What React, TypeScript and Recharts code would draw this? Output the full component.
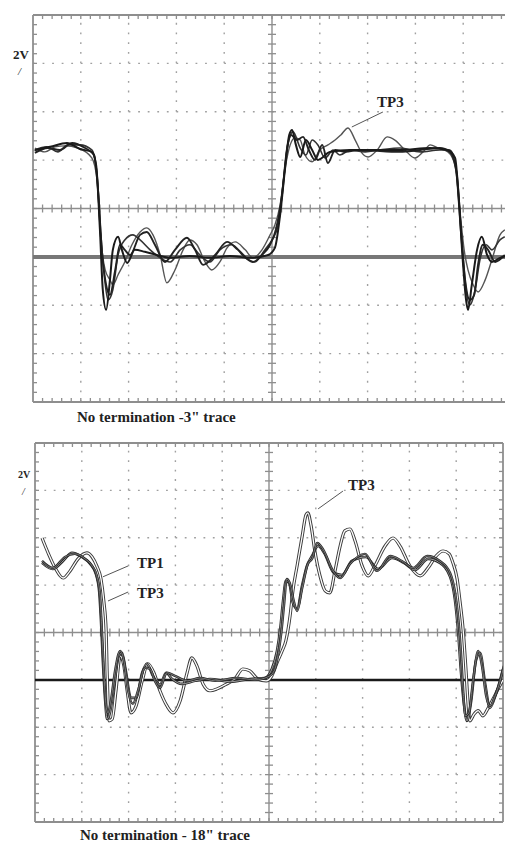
import React from 'react';
import { LineChart, Line, XAxis, YAxis, ReferenceLine } from 'recharts';

// time in ns (10 ns/div), voltage in V (2 V/div)
const xDivs = [0, 10, 20, 30, 40, 50, 60, 70, 80, 90, 100];
const yDivs = [-6, -4, -2, 0, 2, 4, 6, 8, 10];

// ---- Top scope: No termination - 3" trace ----
const top1 = [[0.4,4.42],[3.6,4.55],[7.1,4.71],[9.8,4.46],[12.3,4.34],[13.2,3.8],[14.0,1.12],[14.6,-1.36],[15.3,-2.19],[16.1,-0.95],[16.7,0.29],[17.8,0.83],[18.6,0.29],[19.7,-0.25],[21.3,0.29],[23.4,0.21],[25.9,0.08],[28.7,-0.04],[32.8,0.04],[37.0,-0.04],[41.2,0.04],[45.4,-0.04],[49.2,0.08],[50.6,0.37],[51.7,1.74],[52.7,3.6],[53.6,5.04],[54.2,5.25],[55.0,4.63],[55.9,4.13],[57.1,4.83],[58.4,4.42],[59.6,4.01],[62.1,4.34],[66.3,4.42],[76.8,4.42],[83.1,4.5],[86.8,4.42],[88.3,4.09],[89.1,2.36],[89.9,-0.12],[90.6,-1.78],[91.0,-2.19],[91.8,-1.16],[92.9,0.29],[93.9,0.83],[95.0,0.08],[96.0,-0.21],[97.7,-0.04],[99.8,0.04]];
const top2 = [[0.4,4.3],[3.1,4.5],[5.6,4.42],[8.2,4.71],[10.9,4.5],[12.8,4.21],[13.6,2.77],[14.4,0.29],[15.3,-1.16],[16.1,-1.57],[17.2,-0.54],[18.2,0.5],[19.2,0.29],[20.3,0.08],[22.4,0.91],[23.8,1.03],[25.5,0.5],[27.6,-0.21],[29.7,0.29],[32.2,0.79],[33.9,0.29],[35.6,-0.33],[38.1,0.08],[40.6,0.62],[42.9,0.29],[46.0,-0.21],[47.9,0.08],[49.6,0.5],[50.8,1.12],[52.1,2.56],[53.1,4.42],[54.0,5.04],[55.2,4.83],[56.5,4.96],[57.7,4.42],[59.0,4.01],[60.5,4.63],[61.7,3.88],[63.2,4.42],[65.3,4.34],[68.4,4.42],[76.8,4.34],[81.0,4.42],[85.1,4.5],[87.2,4.34],[88.5,3.6],[89.5,1.12],[90.4,-0.95],[91.4,-1.78],[92.3,-1.57],[93.1,-0.33],[94.1,0.5],[95.2,0.29],[96.7,-0.21],[98.7,0.08]];
const top3 = [[0.4,4.5],[2.5,4.34],[4.6,4.55],[6.7,4.59],[9.4,4.5],[12.3,4.09],[13.4,3.18],[14.2,0.7],[15.1,-0.54],[16.1,-0.95],[16.7,-1.16],[17.8,-0.74],[19.2,-0.21],[20.7,0.5],[22.4,1.03],[23.8,1.2],[25.1,0.91],[26.6,0.08],[28.0,-1.07],[29.7,-0.54],[31.4,0.29],[32.8,0.7],[34.3,0.5],[36.0,-0.21],[37.4,-0.54],[39.1,-0.21],[40.6,0.37],[42.3,0.62],[44.4,0.29],[46.0,-0.04],[47.9,0.29],[49.6,0.91],[50.6,1.32],[51.7,2.15],[52.7,3.6],[53.8,4.63],[54.8,4.92],[55.9,4.83],[56.9,4.21],[58.4,3.93],[60.0,4.42],[61.7,4.63],[63.2,4.83],[64.4,5.04],[65.9,5.33],[67.4,4.83],[68.8,4.3],[70.1,4.13],[72.0,4.42],[74.1,4.96],[75.7,4.83],[77.8,4.42],[79.9,4.09],[81.6,4.34],[83.1,4.63],[84.7,4.5],[86.8,4.34],[88.3,3.8],[89.3,1.94],[90.2,0.29],[91.0,-0.54],[92.1,-1.16],[93.1,-1.45],[94.6,-0.95],[96.0,-0.12],[97.7,0.91],[98.7,1.12]];
const top4 = [[0.4,4.42],[2.9,4.55],[5.2,4.34],[7.3,4.63],[9.8,4.63],[12.3,4.42],[13.4,3.39],[14.2,0.91],[14.9,-0.74],[15.7,-1.78],[16.7,-1.36],[17.8,0.08],[19.2,0.7],[20.9,0.91],[22.4,0.7],[24.5,0.29],[26.6,-0.04],[28.7,-0.21],[30.8,0.29],[32.8,0.5],[34.9,0.08],[37.0,-0.21],[39.1,0.29],[41.6,0.5],[44.4,-0.04],[46.4,-0.21],[48.5,0.29],[50.0,0.7],[51.3,1.32],[52.3,2.98],[53.3,4.63],[54.4,5.17],[55.9,4.5],[57.1,4.21],[58.4,4.83],[59.6,4.63],[61.1,4.09],[62.8,4.42],[64.2,4.21],[66.3,4.42],[69.5,4.34],[72.6,4.42],[76.8,4.5],[81.0,4.34],[85.1,4.42],[87.2,4.42],[88.7,3.39],[89.7,0.7],[90.6,-1.36],[91.4,-1.98],[92.5,-1.36],[93.5,-0.12],[94.8,0.5],[96.0,0.29],[97.7,0.7],[98.7,0.83]];

// ---- Bottom scope: No termination - 18" trace ----
const botTP3 = [[1.5,5.99],[2.8,5.36],[4.3,4.73],[6.0,4.3],[7.5,4.6],[9.2,5.11],[11.1,5.36],[12.2,5.19],[13.2,4.81],[14.1,4.26],[14.7,3.33],[15.2,2.07],[15.4,0.38],[15.6,-0.89],[15.8,-1.73],[16.5,-1.65],[17.3,-0.46],[18.2,1.01],[19.0,0.59],[19.7,-0.46],[20.5,-1.39],[21.6,-1.1],[22.9,-0.04],[24.1,0.68],[25.4,0.3],[26.7,-0.46],[28.2,-1.1],[29.5,-1.39],[31.0,-0.89],[32.5,0.3],[33.5,0.93],[34.6,0.59],[35.9,-0.17],[37.4,-0.46],[38.9,-0.38],[40.6,-0.21],[42.7,0.04],[44.4,0.46],[45.9,0.38],[47.6,0.04],[49.4,-0.04],[50.6,0.17],[51.7,0.72],[52.8,1.22],[53.6,1.65],[54.5,2.7],[55.1,3.76],[56.0,4.81],[57.1,6.08],[57.9,6.96],[58.3,7.05],[59.0,6.5],[59.8,5.44],[60.9,4.39],[62.0,3.76],[63.0,3.67],[64.1,4.6],[65.2,5.65],[66.2,6.29],[67.3,6.37],[68.4,5.86],[69.9,4.81],[71.2,4.39],[72.6,4.81],[74.8,5.65],[76.5,5.99],[78.0,5.65],[80.1,4.81],[82.3,4.39],[84.0,4.73],[85.7,5.23],[87.2,5.44],[88.5,5.32],[89.3,4.94],[90.2,4.26],[90.8,3.33],[91.5,2.07],[92.1,0.38],[92.5,-0.89],[92.9,-1.73],[93.8,-1.45],[94.7,-1.3],[95.7,-1.52],[96.8,-1.2],[97.9,-0.8],[98.9,-0.4],[100,0.0]];
const botTP1a = [[1.5,5.02],[3.8,4.73],[6.4,5.19],[8.5,5.32],[10.7,5.11],[12.2,4.81],[13.2,4.39],[13.9,3.54],[14.3,2.07],[14.7,0.38],[15.2,-1.1],[15.6,-1.39],[16.2,-0.89],[17.1,0.38],[18.2,1.22],[19.0,0.8],[19.9,-0.46],[20.9,-1.01],[22.0,-0.46],[23.5,0.51],[24.6,0.46],[25.6,-0.04],[26.7,-0.34],[28.2,0.3],[29.9,0.17],[32.5,-0.04],[35.3,0.08],[38.5,-0.04],[43.2,0.08],[47.0,0],[49.8,0.13],[51.1,0.38],[51.9,1.01],[52.6,1.94],[53.2,3.12],[53.8,4.26],[54.5,4.05],[55.3,3.33],[56.0,2.91],[57.1,3.88],[58.3,4.89],[59.2,5.11],[60.3,5.78],[61.5,5.53],[63.7,4.6],[65.2,4.3],[67.3,4.89],[70.5,5.32],[73.1,4.6],[75.9,5.23],[78.4,5.02],[80.8,4.73],[83.8,5.23],[86.5,5.02],[88.7,4.51],[89.7,3.76],[90.4,2.7],[91.0,1.22],[91.5,-0.46],[91.9,-1.52],[92.7,-1.39],[93.6,-0.04],[94.7,1.22],[95.5,0.59],[96.4,-0.68],[97.2,-1.1],[98.3,-0.68],[99.4,-0.04],[100.2,0.59]];
const botTP1b = [[1.5,4.94],[3.8,4.68],[6.0,5.02],[7.9,5.36],[10.0,5.19],[11.8,4.89],[13.0,4.47],[13.7,3.76],[14.1,2.49],[14.5,0.8],[15.0,-0.89],[15.4,-1.65],[16.0,-1.39],[16.9,-0.25],[17.9,1.01],[18.6,1.14],[19.4,0.38],[20.5,-0.76],[21.6,-0.76],[22.9,0.3],[23.9,0.68],[25.2,0.17],[26.7,-0.21],[28.0,0.3],[29.3,0.04],[31.4,-0.17],[34.2,-0.04],[37.4,0.04],[41.7,-0.08],[45.9,0.04],[49.1,0.08],[50.6,0.46],[51.7,1.22],[52.4,2.15],[53.0,3.33],[53.6,4.18],[54.3,4.09],[55.1,3.25],[56.0,3.0],[57.1,4.01],[58.1,4.81],[59.2,5.23],[60.5,5.65],[61.8,5.36],[63.9,4.51],[65.6,4.43],[67.7,5.02],[70.7,5.19],[73.3,4.68],[76.3,5.15],[78.8,4.94],[81.2,4.64],[84.0,5.11],[86.5,4.94],[88.7,4.35],[89.7,3.42],[90.4,2.07],[91.0,0.38],[91.7,-1.1],[92.3,-1.73],[93.2,-0.89],[94.2,0.8],[95.1,1.14],[96.2,-0.17],[97.2,-1.18],[98.5,-0.59],[100.0,0.46]];

const toPts = (a: number[][]) => a.map(([t, v]) => ({ t, v }));

const xMinor: number[] = [];
for (let i = 1; i < 50; i++) xMinor.push(i * 2);
const yMinor: number[] = [];
for (let i = 1; i < 40; i++) yMinor.push(Math.round((-6 + i * 0.4) * 100) / 100);

const GRID = '#a0a0a0';
const AXIS = '#8e8e8e';

function graticule(k: string, pw: number, ph: number) {
  const tx = (4 * 100) / pw;
  const ty = (4 * 16) / ph;
  const els: React.ReactNode[] = [];
  const dx = pw / 50;
  const dy = ph / 40;
  xDivs.filter((x) => x !== 0 && x !== 100 && x !== 50).forEach((x) =>
    els.push(<ReferenceLine key={`${k}vx${x}`} x={x} stroke={GRID} strokeWidth={1.4} strokeDasharray={`1.8 ${dy - 1.8}`} />)
  );
  yDivs.filter((y) => y !== -6 && y !== 10 && y !== 2).forEach((y) =>
    els.push(<ReferenceLine key={`${k}hy${y}`} y={y} stroke={GRID} strokeWidth={1.4} strokeDasharray={`1.8 ${dx - 1.8}`} />)
  );
  els.push(<ReferenceLine key={`${k}cx`} x={50} stroke={AXIS} strokeWidth={1.4} />);
  els.push(<ReferenceLine key={`${k}cy`} y={2} stroke={AXIS} strokeWidth={1.4} />);
  [0, 100].forEach((x) => els.push(<ReferenceLine key={`${k}bx${x}`} x={x} stroke={AXIS} strokeWidth={1.8} />));
  [-6, 10].forEach((y) => els.push(<ReferenceLine key={`${k}by${y}`} y={y} stroke={AXIS} strokeWidth={1.8} />));
  xMinor.forEach((x) => {
    els.push(<ReferenceLine key={`${k}tc${x}`} segment={[{ x, y: 2 - ty }, { x, y: 2 + ty }]} stroke={AXIS} strokeWidth={1.3} />);
    els.push(<ReferenceLine key={`${k}tt${x}`} segment={[{ x, y: 10 }, { x, y: 10 - ty }]} stroke={AXIS} strokeWidth={1.3} />);
    els.push(<ReferenceLine key={`${k}tb${x}`} segment={[{ x, y: -6 }, { x, y: -6 + ty }]} stroke={AXIS} strokeWidth={1.3} />);
  });
  yMinor.forEach((y) => {
    els.push(<ReferenceLine key={`${k}sc${y}`} segment={[{ x: 50 - tx, y }, { x: 50 + tx, y }]} stroke={AXIS} strokeWidth={1.3} />);
    els.push(<ReferenceLine key={`${k}sl${y}`} segment={[{ x: 0, y }, { x: tx, y }]} stroke={AXIS} strokeWidth={1.3} />);
    els.push(<ReferenceLine key={`${k}sr${y}`} segment={[{ x: 100 - tx, y }, { x: 100, y }]} stroke={AXIS} strokeWidth={1.3} />);
  });
  return els;
}

const serif = '"Liberation Serif", "DejaVu Serif", serif';
const lbl = (left: number, top: number, size: number, text: string, extra: React.CSSProperties = {}) => (
  <div style={{ position: 'absolute', left, top, fontFamily: serif, fontWeight: 'bold', fontSize: size, lineHeight: 1, color: '#222', whiteSpace: 'nowrap', ...extra }}>{text}</div>
);

const CW = 520;

export default function App() {
  const topPW = 478, topPH = 387;
  const botPW = 468, botPH = 379;
  return (
    <div style={{ position: 'absolute', left: 0, top: 0, width: 505, height: 844, overflow: 'hidden', background: '#fff' }}>
      <div style={{ position: 'absolute', left: 0, top: 0 }}>
        <LineChart width={CW} height={420} margin={{ top: 15, left: 33, right: CW - 33 - topPW, bottom: 420 - 15 - topPH }}>
          <XAxis type="number" dataKey="t" domain={[0, 100]} hide allowDataOverflow />
          <YAxis type="number" dataKey="v" domain={[-6, 10]} hide allowDataOverflow />
          {graticule('a', topPW, topPH)}
          <ReferenceLine y={0} stroke="#777" strokeWidth={4} />
          <Line data={toPts(top3)} dataKey="v" type="monotone" stroke="#555" strokeWidth={1.4} dot={false} isAnimationActive={false} />
          <Line data={toPts(top4)} dataKey="v" type="monotone" stroke="#333" strokeWidth={1.6} dot={false} isAnimationActive={false} />
          <Line data={toPts(top2)} dataKey="v" type="monotone" stroke="#222" strokeWidth={1.9} dot={false} isAnimationActive={false} />
          <Line data={toPts(top1)} dataKey="v" type="monotone" stroke="#1a1a1a" strokeWidth={2} dot={false} isAnimationActive={false} />
          <ReferenceLine segment={[{ x: 73.2, y: 5.99 }, { x: 66.7, y: 5.37 }]} stroke="#555" strokeWidth={1} />
        </LineChart>
      </div>
      <div style={{ position: 'absolute', left: 0, top: 430 }}>
        <LineChart width={CW} height={400} margin={{ top: 13, left: 35, right: CW - 35 - botPW, bottom: 400 - 13 - botPH }}>
          <XAxis type="number" dataKey="t" domain={[0, 100]} hide allowDataOverflow />
          <YAxis type="number" dataKey="v" domain={[-6, 10]} hide allowDataOverflow />
          {graticule('b', botPW, botPH)}
          <ReferenceLine y={0} stroke="#1a1a1a" strokeWidth={2.5} />
          <Line data={toPts(botTP3)} dataKey="v" type="monotone" stroke="#3a3a3a" strokeWidth={3.2} dot={false} isAnimationActive={false} />
          <Line data={toPts(botTP3)} dataKey="v" type="monotone" stroke="#ffffff" strokeWidth={1.3} dot={false} isAnimationActive={false} />
          <Line data={toPts(botTP1b)} dataKey="v" type="monotone" stroke="#2a2a2a" strokeWidth={2.6} dot={false} isAnimationActive={false} />
          <Line data={toPts(botTP1b)} dataKey="v" type="monotone" stroke="#bbbbbb" strokeWidth={0.8} dot={false} isAnimationActive={false} />
          <Line data={toPts(botTP1a)} dataKey="v" type="monotone" stroke="#2a2a2a" strokeWidth={2.4} dot={false} isAnimationActive={false} />
          <Line data={toPts(botTP1a)} dataKey="v" type="monotone" stroke="#999999" strokeWidth={0.7} dot={false} isAnimationActive={false} />
          <ReferenceLine segment={[{ x: 19.9, y: 4.81 }, { x: 14.5, y: 4.35 }]} stroke="#555" strokeWidth={1} />
          <ReferenceLine segment={[{ x: 19.9, y: 3.71 }, { x: 15.6, y: 3.33 }]} stroke="#555" strokeWidth={1} />
          <ReferenceLine segment={[{ x: 65.8, y: 7.97 }, { x: 60.5, y: 7.22 }]} stroke="#555" strokeWidth={1} />
        </LineChart>
      </div>
      {lbl(13, 48, 13, '2V')}
      {lbl(18, 66, 11, '/', { fontWeight: 'normal', fontStyle: 'italic' })}
      {lbl(377, 95, 15, 'TP3')}
      {lbl(77, 410, 15, 'No termination -3" trace')}
      {lbl(18, 470, 10, '2V')}
      {lbl(22, 487, 10, '/', { fontWeight: 'normal', fontStyle: 'italic' })}
      {lbl(137, 556, 15, 'TP1')}
      {lbl(137, 586, 15, 'TP3')}
      {lbl(348, 478, 15, 'TP3')}
      {lbl(80, 828, 15, 'No termination - 18" trace')}
    </div>
  );
}
